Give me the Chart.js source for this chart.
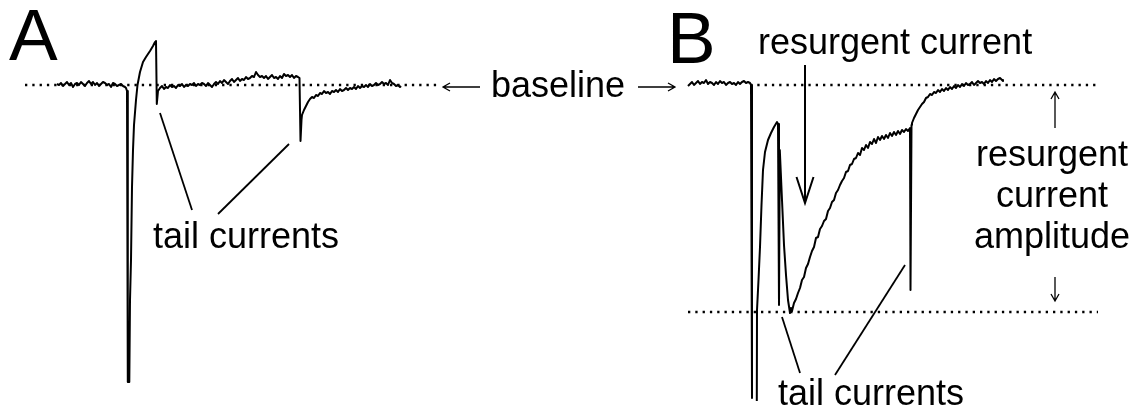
<!DOCTYPE html>
<html>
<head>
<meta charset="utf-8">
<script src="https://cdn.jsdelivr.net/npm/chart.js@4/dist/chart.umd.min.js"></script>
<style>
  body { margin: 0; background: #fff; }
  #wrap { width: 1142px; height: 413px; }
</style>
</head>
<body>
<div id="wrap"><canvas id="chart" width="1142" height="413"></canvas></div>
<script>
// Trace A: time and current (baseline = 0, inward current negative)
const aTime = [57,59,61,63,65,67,69,71,73,75,77,79,81,83,85,87,89,91,93,95,97,99,101,103,105,107,109,111,113,115,117,119,121,123,125,
  126,127,127.8,129.3,130,131,132,133,134,136,137.5,140,143,146,150,153,155,156,156.8,158,
  160,162,164,166,168,170,172,174,176,178,180,182,184,186,188,190,192,194,196,198,200,202,204,206,208,210,212,214,216,218,220,222,224,226,228,230,232,234,236,238,240,242,244,246,248,250,252,254,256,258,260,262,264,266,268,270,272,274,276,278,280,282,284,286,288,290,292,294,296,298,
  299.5,300.5,301.5,
  302,304,306,308,310,312,314,316,318,320,322,324,326,328,330,332,334,336,338,340,342,344,346,348,350,352,354,356,358,360,362,364,366,368,370,372,374,376,378,380,382,384,386,388,390,392,394,396,398,400,401];
const aCurrent = [1,0,2,-1,1,3,0,2,-2,1,2,0,3,1,-1,2,4,1,3,0,2,-1,1,3,2,0,1,-2,2,1,-1,0,1,-1,-2,
  -3,-6,-297,-297,-215,-175,-102,-65,-40,-15,0,13,23,28,34,39,43,44,-19,-6,
  -3,-1,-4,-2,-3,0,-2,-1,-3,0,-1,1,-2,0,-1,1,0,2,-1,1,0,2,1,-1,2,0,-2,1,3,1,4,2,5,3,1,4,6,3,5,7,4,6,5,8,6,7,9,8,13,10,8,9,7,9,6,8,10,7,8,6,9,7,11,9,10,8,10,7,9,8,
  7,-56,-35,
  -30,-25,-21,-17,-14,-12,-13,-10,-11,-8,-9,-6,-8,-7,-9,-6,-7,-5,-7,-4,-6,-5,-3,-5,-3,-4,-2,-4,-1,-3,-1,-2,0,-2,1,-1,0,2,0,1,3,1,2,0,5,2,1,-1,0,-2,-1];

// Trace B (null = pen lifted between the two transient lines)
const bTime = [688,690,692,694,696,698,700,702,704,706,708,710,712,714,716,718,720,722,724,726,728,730,732,734,736,738,740,742,744,746,748,750,
  751,752,754,756.8,757,758.5,760,761.5,763,765,768,771,774,777,778,779,779.8,782,784,786,788,790,791,
  792,794,796,798,800,802,804,806,808,810,812,814,816,818,820,822,824,826,828,830,832,834,836,838,840,842,844,846,848,850,852,854,856,858,860,862,864,866,868,870,872,874,876,878,880,882,884,886,888,890,892,894,896,898,900,902,904,906,908,910,
  910.5,911.5,
  912,914,916,918,920,922,924,926,928,930,932,934,936,938,940,942,944,946,948,950,952,954,956,958,960,962,964,966,968,970,972,974,976,978,980,982,984,986,988,990,992,994,996,998,1000,1002,1003];
const bCurrent = [-1,1,3,0,2,4,1,3,2,5,1,3,2,0,3,1,4,2,3,0,2,3,1,2,0,3,1,3,4,2,3,2,
  0,-313,null,-316,-225,-195,-162,-120,-85,-67,-55,-48,-42,-37,-39,-220,-65,-115,-160,-190,-215,-228,-223,
  -226,-218,-214,-208,-203,-195,-192,-183,-179,-172,-166,-162,-153,-152,-144,-141,-136,-134,-126,-123,-117,-115,-108,-105,-100,-96,-93,-87,-86,-80,-79,-74,-73,-68,-70,-63,-65,-60,-63,-57,-59,-54,-58,-52,-55,-51,-54,-50,-53,-48,-51,-47,-50,-46,-49,-45,-47,-44,-46,-43,
  -205,-40,
  -38,-33,-29,-25,-22,-19,-17,-13,-12,-9,-10,-7,-8,-5,-7,-4,-6,-3,-5,-2,-4,-1,-3,0,-2,1,-1,2,0,1,3,0,2,4,2,3,1,4,2,5,3,6,4,6,7,5,4];

// Reference levels (dotted): [start, end, current]
const baselineA = [25, 438, 0];
const baselineB = [750, 1098, 0];
const peakLevelB = [688, 1098, -227];

function xy(t, c) { return t.map((v, i) => ({ x: v, y: c[i] })); }
function level(l) { return [{ x: l[0], y: l[2] }, { x: l[1], y: l[2] }]; }

const traceStyle = { borderColor: '#000', borderWidth: 2, showLine: true, spanGaps: false, pointRadius: 0, tension: 0, borderJoinStyle: 'round' };
const dotStyle = { borderColor: '#000', borderWidth: 2.3, showLine: true, pointRadius: 0, borderDash: [2.3, 5] };

// Annotations (in data units)
const FONT = '36px "Liberation Sans", Arial, sans-serif';
const lines = [
  [160, -28, 192, -125], [289, -59, 218, -129],
  [782, -232, 800, -288], [905, -180, 835, -290]
];
const arrows = [
  { from: [805, 20], to: [805, -118], head: 26, wing: 8.5, width: 2 },
  { from: [1055, -43], to: [1055, -7], head: 7, wing: 4, width: 1.3 },
  { from: [1055, -192], to: [1055, -216], head: 7, wing: 4, width: 1.3 },
  { from: [480, -2], to: [443, -2], head: 7, wing: 4, width: 1.3 },
  { from: [638, -2], to: [675, -2], head: 7, wing: 4, width: 1.3 }
];
const labels = [
  { text: 'A', x: 9, y: 25, font: '73px "Liberation Sans", Arial, sans-serif', align: 'left' },
  { text: 'B', x: 667, y: 22, font: '73px "Liberation Sans", Arial, sans-serif', align: 'left' },
  { text: 'resurgent current', x: 758, y: 31, font: FONT, align: 'left' },
  { text: 'baseline', x: 558, y: -12, font: FONT, align: 'center' },
  { text: 'tail currents', x: 246, y: -163, font: FONT, align: 'center' },
  { text: 'tail currents', x: 871, y: -320, font: FONT, align: 'center' },
  { text: 'resurgent', x: 1052, y: -81, font: FONT, align: 'center' },
  { text: 'current', x: 1052, y: -122, font: FONT, align: 'center' },
  { text: 'amplitude', x: 1052, y: -163, font: FONT, align: 'center' }
];

const annotate = {
  id: 'annotate',
  afterDatasetsDraw(chart) {
    const ctx = chart.ctx, sx = chart.scales.x, sy = chart.scales.y;
    const px = v => sx.getPixelForValue(v), py = v => sy.getPixelForValue(v);
    ctx.save();
    ctx.strokeStyle = '#000';
    ctx.fillStyle = '#000';
    ctx.lineWidth = 1.8;
    lines.forEach(l => {
      ctx.beginPath();
      ctx.moveTo(px(l[0]), py(l[1]));
      ctx.lineTo(px(l[2]), py(l[3]));
      ctx.stroke();
    });
    arrows.forEach(a => {
      const x0 = px(a.from[0]), y0 = py(a.from[1]), x1 = px(a.to[0]), y1 = py(a.to[1]);
      const ang = Math.atan2(y1 - y0, x1 - x0);
      ctx.lineWidth = a.width;
      ctx.beginPath();
      ctx.moveTo(x0, y0);
      ctx.lineTo(x1, y1);
      const bx = x1 - a.head * Math.cos(ang), by = y1 - a.head * Math.sin(ang);
      const nx = -Math.sin(ang) * a.wing, ny = Math.cos(ang) * a.wing;
      ctx.moveTo(bx + nx, by + ny);
      ctx.lineTo(x1, y1);
      ctx.lineTo(bx - nx, by - ny);
      ctx.stroke();
    });
    ctx.textBaseline = 'alphabetic';
    labels.forEach(t => {
      ctx.font = t.font;
      ctx.textAlign = t.align;
      ctx.fillText(t.text, px(t.x), py(t.y));
    });
    ctx.restore();
  }
};

new Chart(document.getElementById('chart'), {
  type: 'scatter',
  data: {
    datasets: [
      Object.assign({ data: level(baselineA) }, dotStyle),
      Object.assign({ data: level(baselineB) }, dotStyle),
      Object.assign({ data: level(peakLevelB) }, dotStyle),
      Object.assign({ data: xy(aTime, aCurrent) }, traceStyle),
      Object.assign({ data: xy(bTime, bCurrent) }, traceStyle)
    ]
  },
  options: {
    responsive: false,
    animation: false,
    layout: { padding: 0 },
    plugins: { legend: { display: false }, tooltip: { enabled: false } },
    scales: {
      x: { type: 'linear', min: 0, max: 1142, display: false },
      y: { type: 'linear', min: -328, max: 85, display: false }
    }
  },
  plugins: [annotate]
});
</script>
</body>
</html>
